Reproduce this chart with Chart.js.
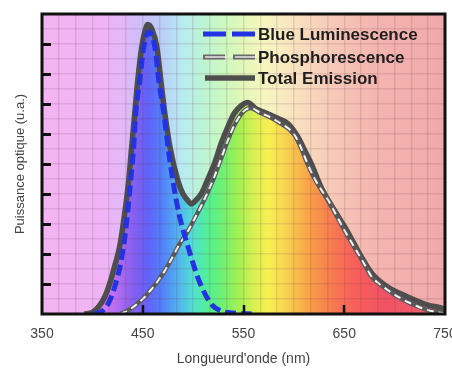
<!DOCTYPE html>
<html><head><meta charset="utf-8">
<script src="https://cdn.jsdelivr.net/npm/chart.js@4/dist/chart.umd.min.js"></script>
<style>html,body{margin:0;padding:0;background:#fff}#wrap{width:452px;height:368px;position:relative}</style>
</head><body><div id="wrap"><canvas id="c" width="452" height="368"></canvas></div>
<script>
// ---- Data ----
const blueNm  = [402, 410, 417, 423, 428, 433, 438, 441, 443, 447, 451, 456, 462, 466, 471, 475, 480, 486, 495, 506, 518, 528, 540, 560];
const blueVal = [0,   0.1, 0.43,1.0, 1.67,2.77,4.43,5.57,6.67,7.77,8.9, 9.4, 8.9, 7.77,6.67,5.57,4.43,3.33,2.23,1.1, 0.33,0.1, 0.03,0];

const phosNm  = [428, 438, 450, 458, 465, 472, 478, 486, 495, 501, 508, 515, 521, 528, 534, 541, 550, 557, 567, 577, 587, 594, 601, 607, 613, 620, 627, 634, 642, 650, 657, 664, 671, 677, 685, 693, 703, 713, 723, 733, 742, 750];
const phosVal = [0,   0.17,0.5, 0.8, 1.1, 1.45,1.8, 2.3, 2.77,3.15,3.6, 4.1, 4.57,5.2, 5.75,6.3, 6.75,6.87,6.7, 6.55,6.35,6.2, 5.95,5.55,5.05,4.55,4.15,3.8, 3.3, 2.8, 2.4, 2.0, 1.6, 1.25,1.0, 0.8, 0.58,0.4, 0.25,0.13,0.06,0.02];

const totalNm  = [392, 400, 406, 412, 418, 423, 427, 432, 436, 439, 442, 445, 449, 452, 455, 459, 464, 468, 472, 477, 485, 490, 495, 498, 503, 508, 514, 521, 528, 534, 541, 548, 554, 562, 570, 582, 594, 604, 610, 617, 627, 640, 654, 667, 677, 693, 713, 733, 746, 750];
const totalVal = [0,   0.05,0.23,0.55,1.1, 1.7, 2.23,3.33,4.43,5.57,6.67,7.77,8.9, 9.4, 9.65,9.5, 8.9, 7.77,6.67,5.57,4.43,4.0, 3.77,3.67,3.8, 4.0, 4.45,5.0, 5.7, 6.2, 6.7, 6.95,7.05,6.85,6.73,6.55,6.35,5.9, 5.5, 5.03,4.23,3.47,2.7, 1.9, 1.37,0.9, 0.57,0.3, 0.2, 0.15];

const seriesLabels = ['Blue Luminescence', 'Phosphorescence', 'Total Emission'];
const xLabelTicks = [350, 450, 550, 650, 750];
const xMarkTicks = [450, 550, 650];
const yMarkTicks = [1, 2, 3, 4, 5, 6, 7, 8, 9];
const xTitle = "Longueurd'onde (nm)";
const yTitle = 'Puissance optique (u.a.)';

// ---- Styles ----
const PALE = [[350,'#f4b4f2'],[410,'#f0b4f4'],[430,'#e2b8f8'],[450,'#cabff8'],[470,'#b9d0f8'],[490,'#b8ecf0'],[510,'#bcf4d2'],[530,'#ccf8c0'],[550,'#e2f8b8'],[570,'#f8f6c0'],[590,'#f8eac0'],[610,'#f8dcbe'],[640,'#f6c8b8'],[680,'#f4b6b0'],[750,'#f0a8aa']];
const SAT = [[350,'#f0a0f0'],[400,'#e890f0'],[420,'#c070f0'],[440,'#8860f0'],[455,'#6262f8'],[470,'#5282f8'],[485,'#52b2f0'],[500,'#52e0d2'],[515,'#52f092'],[530,'#72f072'],[545,'#a2f052'],[560,'#d8f052'],[575,'#f8f052'],[590,'#f8d852'],[605,'#f8b84a'],[620,'#f8984a'],[640,'#f87852'],[660,'#f8605a'],[690,'#f05262'],[750,'#f06272']];

function zip(xs, ys) { return xs.map((x, i) => ({x: x, y: ys[i]})); }

function spectrum(chart, stops) {
  const {ctx, chartArea, scales} = chart;
  if (!chartArea || !scales.x) return 'rgba(0,0,0,0)';
  const xs = scales.x;
  const x0 = xs.getPixelForValue(350), x1 = xs.getPixelForValue(750);
  const g = ctx.createLinearGradient(x0, 0, x1, 0);
  stops.forEach(([nm, c]) => g.addColorStop((nm - 350) / 400, c));
  return g;
}

const bgPlugin = {
  id: 'bg',
  beforeDraw(chart) {
    const {ctx, chartArea: a} = chart;
    if (!a) return;
    ctx.save();
    ctx.fillStyle = spectrum(chart, PALE);
    ctx.fillRect(a.left, a.top, a.right - a.left, a.bottom - a.top);
    ctx.restore();
  }
};

const framePlugin = {
  id: 'frame',
  afterDraw(chart) {
    const {ctx, chartArea: a, scales} = chart;
    ctx.save();
    ctx.strokeStyle = '#111';
    ctx.lineWidth = 3;
    yMarkTicks.forEach(v => {
      const y = Math.round(scales.y.getPixelForValue(v)) + 0.5;
      ctx.beginPath(); ctx.moveTo(a.left, y); ctx.lineTo(a.left + 9, y); ctx.stroke();
    });
    ctx.lineWidth = 2.5;
    xMarkTicks.forEach(v => {
      const x = Math.round(scales.x.getPixelForValue(v));
      ctx.beginPath(); ctx.moveTo(x, a.bottom); ctx.lineTo(x, a.bottom - 9); ctx.stroke();
    });
    ctx.lineWidth = 3;
    ctx.strokeRect(a.left, a.top, a.right - a.left, a.bottom - a.top);
    ctx.restore();
  }
};

const legendPlugin = {
  id: 'innerLegend',
  afterDraw(chart) {
    const {ctx, chartArea: a} = chart;
    const items = chart.data.datasets.filter(d => d.legendKind);
    const x0 = a.left + 161, x1 = a.left + 213, tx = a.left + 216;
    const rows = [a.top + 20, a.top + 43, a.top + 64];
    ctx.save();
    items.forEach((d, i) => {
      const y = rows[i];
      ctx.lineCap = 'butt';
      if (d.legendKind === 'blue') {
        ctx.strokeStyle = d.borderColor; ctx.lineWidth = 5; ctx.setLineDash([23, 6]);
        ctx.beginPath(); ctx.moveTo(x0, y); ctx.lineTo(x1, y); ctx.stroke();
      } else if (d.legendKind === 'phos') {
        ctx.strokeStyle = '#6a6a6a'; ctx.lineWidth = 5; ctx.setLineDash([22, 8]);
        ctx.beginPath(); ctx.moveTo(x0, y); ctx.lineTo(x1, y); ctx.stroke();
        ctx.strokeStyle = '#e8e8e8'; ctx.lineWidth = 1.5;
        ctx.beginPath(); ctx.moveTo(x0 + 2, y); ctx.lineTo(x1, y); ctx.stroke();
      } else {
        ctx.strokeStyle = d.borderColor; ctx.lineWidth = 5.5; ctx.setLineDash([]);
        ctx.beginPath(); ctx.moveTo(x0 + 2, y); ctx.lineTo(x1, y); ctx.stroke();
      }
      ctx.setLineDash([]);
      ctx.fillStyle = '#1e1e1e';
      ctx.font = 'bold 17px "Liberation Sans", Arial, sans-serif';
      ctx.textBaseline = 'middle';
      ctx.fillText(d.label, tx, y + 1);
    });
    ctx.restore();
  }
};

const gridColor = 'rgba(90,40,70,0.13)';

new Chart(document.getElementById('c'), {
  type: 'line',
  data: {
    datasets: [
      { label: seriesLabels[0], legendKind: 'blue', data: zip(blueNm, blueVal),
        borderColor: '#2233e6', borderWidth: 5, borderDash: [11, 5], fill: false,
        pointRadius: 0, cubicInterpolationMode: 'monotone' },
      { label: seriesLabels[1], legendKind: 'phos', data: zip(phosNm, phosVal),
        borderColor: '#f6f6f6', borderWidth: 2, borderDash: [7, 5], fill: false,
        pointRadius: 0, cubicInterpolationMode: 'monotone' },
      { label: '', data: zip(phosNm, phosVal),
        borderColor: '#5a5a5a', borderWidth: 4.5, fill: false,
        pointRadius: 0, cubicInterpolationMode: 'monotone' },
      { label: seriesLabels[2], legendKind: 'total', data: zip(totalNm, totalVal),
        borderColor: '#4e4e4e', borderWidth: 5.5, fill: 'origin',
        backgroundColor: (c) => spectrum(c.chart, SAT),
        pointRadius: 0, cubicInterpolationMode: 'monotone' }
    ]
  },
  options: {
    responsive: false,
    animation: false,
    events: [],
    layout: { padding: { top: 14, right: 7, left: 0, bottom: 0 } },
    plugins: { legend: { display: false }, tooltip: { enabled: false } },
    scales: {
      x: {
        type: 'linear', min: 350, max: 750,
        ticks: {
          stepSize: 400 / 24, autoSkip: false, maxRotation: 0,
          color: '#444', font: { family: '"Liberation Sans", Arial, sans-serif', size: 14 },
          padding: 12,
          callback: (v) => { const r = Math.round(v); return xLabelTicks.includes(r) ? String(r) : ''; }
        },
        grid: { color: gridColor, lineWidth: 1.5, drawTicks: false, z: 1 },
        border: { display: false },
        title: { display: true, text: xTitle, color: '#444',
          font: { family: '"Liberation Sans", Arial, sans-serif', size: 14 }, padding: { top: 1, bottom: 0 } },
        afterFit: (s) => { s.height = 54; s.paddingLeft = 0; s.paddingRight = 0; }
      },
      y: {
        type: 'linear', min: 0, max: 10,
        ticks: { display: false, stepSize: 0.5, autoSkip: false },
        grid: { color: gridColor, lineWidth: 1.5, drawTicks: false, z: 1 },
        border: { display: false },
        title: { display: true, text: yTitle, color: '#444',
          font: { family: '"Liberation Sans", Arial, sans-serif', size: 13 }, padding: { top: 13, bottom: 0 } },
        afterFit: (s) => { s.width = 42; }
      }
    }
  },
  plugins: [bgPlugin, framePlugin, legendPlugin]
});
</script>
</body></html>
